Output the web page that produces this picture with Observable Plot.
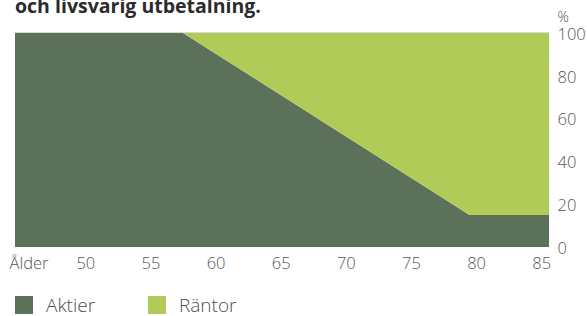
<!DOCTYPE html>
<html>
<head>
<meta charset="utf-8">
<script src="https://cdn.jsdelivr.net/npm/d3@7"></script>
<script src="https://cdn.jsdelivr.net/npm/@observablehq/plot@0.6"></script>
<style>
  html, body { margin: 0; padding: 0; background: #fff; }
  #wrap { position: relative; width: 587px; height: 316px; overflow: hidden; font-family: "Open Sans", sans-serif; }
  #title { position: absolute; left: 15px; top: -5px; font-size: 19.5px; font-weight: 700; color: #2b2b2b; line-height: 22px; white-space: nowrap; }
  #chart { position: absolute; left: 0; top: 0; }
  .leg { position: absolute; top: 295px; height: 20px; display: flex; align-items: center; font-size: 19px; font-weight: 300; color: #4d4d4d; line-height: 20px; }
  .sw { width: 18px; height: 18px; margin-right: 13px; }
</style>
</head>
<body>
<div id="wrap">
  <div id="chart"></div>
  <div id="title">och livsvarig utbetalning.</div>
  <div class="leg" style="left:15px"><div class="sw" style="background:#5b7159"></div>Aktier</div>
  <div class="leg" style="left:148px"><div class="sw" style="background:#b1cb59"></div>Räntor</div>
</div>
<script>
const series = ["Aktier", "Räntor"];
const colors = ["#5b7159", "#b1cb59"];
const ages = [44.6, 57.5, 79.5, 85.6];
const aktier = [100, 100, 15, 15];
const rantor = [0, 0, 85, 85];
const xTicks = [50, 55, 60, 65, 70, 75, 80, 85];
const yTicks = [0, 20, 40, 60, 80, 100];

const data = [];
ages.forEach((a, i) => {
  data.push({age: a, value: aktier[i], series: "Aktier"});
  data.push({age: a, value: rantor[i], series: "Räntor"});
});

const chart = Plot.plot({
  width: 587,
  height: 280,
  marginTop: 33,
  marginBottom: 33,
  marginLeft: 15,
  marginRight: 38,
  style: {fontFamily: "Open Sans", fontSize: "16.5px", fontWeight: 300, color: "#555", background: "transparent", overflow: "visible"},
  x: {domain: [44.6, 85.6]},
  y: {domain: [0, 100]},
  color: {domain: series, range: colors},
  marks: [
    Plot.areaY(data, {x: "age", y: "value", z: "series", fill: "series", order: series}),
    Plot.ruleY([100], {stroke: "#d9d9d9", strokeWidth: 1, dy: -1}),
    Plot.axisX({ticks: xTicks, tickSize: 0, tickPadding: 10, label: null, tickFormat: d => String(d), fontSize: 16.5, fontWeight: 300, fill: "#555"}),
    Plot.axisY({ticks: yTicks, anchor: "right", tickSize: 0, tickPadding: 8, label: null, fontSize: 16.5, fontWeight: 300, fill: "#555", dy: 1}),
    Plot.text(["%"], {frameAnchor: "top-right", textAnchor: "start", lineAnchor: "bottom", dx: 8, dy: -12, fontSize: 14, fontWeight: 300, fill: "#555"}),
    Plot.text(["Ålder"], {frameAnchor: "bottom-left", textAnchor: "start", lineAnchor: "top", dx: -6, dy: 10, fontSize: 16.5, fontWeight: 300, fill: "#555"})
  ]
});
document.getElementById("chart").appendChild(chart);
</script>
</body>
</html>
